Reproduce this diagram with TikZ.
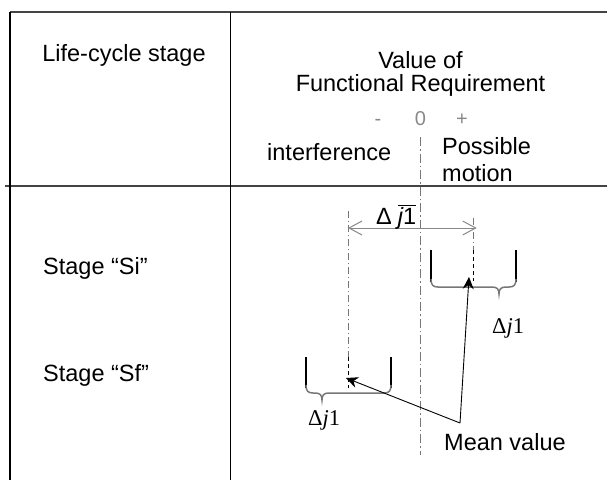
\documentclass[tikz,border=0pt]{standalone}
\usepackage{fontspec}
\setmainfont{Liberation Sans}
\newfontfamily\serifj{Liberation Serif}
\usetikzlibrary{arrows.meta}
\definecolor{axisgray}{HTML}{777777}
\definecolor{signgray}{HTML}{888888}
\definecolor{rulegray}{HTML}{444444}
\begin{document}
\begin{tikzpicture}[x=1pt,y=-1pt,
  txt/.style={font=\fontsize{23.5}{26}\selectfont, inner sep=0pt, anchor=base west},
  signtxt/.style={font=\fontsize{20}{22}\selectfont, text=signgray, inner sep=0pt, anchor=base},
  deltaj/.style={font=\serifj\fontsize{22.5}{24}\selectfont, inner sep=0pt, anchor=base west},
  hrule/.style={draw=rulegray, line width=1.3pt},
  vrule/.style={draw=black, line width=1.3pt},
  axisline/.style={draw=axisgray, line width=1.5pt, dash pattern=on 9pt off 3pt on 1.5pt off 3pt},
  projline/.style={draw=axisgray, line width=0.8pt, dash pattern=on 7pt off 3pt on 1pt off 3pt},
  meandash/.style={draw=black, line width=1pt, dash pattern=on 4pt off 3pt},
  dimline/.style={draw=signgray, line width=1pt, {Straight Barb[length=13pt,width=14pt]}-{Straight Barb[length=13pt,width=14pt]}},
  wall/.style={draw=black, line width=2pt},
  bracegray/.style={draw=axisgray, line width=1.5pt},
  pointer/.style={draw=black, line width=0.9pt, -{Stealth[length=12pt,width=11pt]}}
]
\useasboundingbox (0,0) rectangle (607,480);

% table frame
\coordinate (tl) at (10,12);
\coordinate (tr) at (607,12);
\coordinate (bl) at (10,480);
\coordinate (dt) at (230.5,12);
\coordinate (db) at (230.5,480);
\coordinate (hl) at (5,186);
\coordinate (hr) at (607,186);
\draw[hrule] (tl) -- (tr);
\draw[hrule] (hl) -- (hr);
\draw[vrule] (tl) -- (bl);
\draw[vrule] (dt) -- (db);

% header texts
\node[txt, anchor=base] (lcs) at (124,61) {Life-cycle stage};
\node[txt, anchor=base] (val) at (420.5,68.5) {Value of};
\node[txt, anchor=base] (fr) at (420.5,91) {Functional Requirement};
\node[signtxt] (minus) at (378,125) {-};
\node[signtxt] (zero) at (420.5,125) {0};
\node[signtxt] (plus) at (462,125) {+};
\node[txt] (intf) at (267,160) {interference};
\node[txt] (poss) at (442,154) {Possible};
\node[txt] (mot) at (442,181) {motion};

% row labels
\node[txt] (si) at (43,274) {Stage “Si”};
\node[txt] (sf) at (43,381) {Stage “Sf”};

% zero axis
\coordinate (z0) at (420.7,137);
\coordinate (z1) at (420.7,455);
\draw[axisline] (z0) -- (z1);

% mean projections
\coordinate (lm0) at (348,211);
\coordinate (lm1) at (348,357);
\coordinate (lm2) at (348,388);
\draw[projline] (lm0) -- (lm1);
\draw[meandash] (lm1) -- (lm2);
\coordinate (rm0) at (473.3,218);
\coordinate (rm1) at (473.3,250);
\coordinate (rm2) at (473.3,281);
\draw[projline] (rm0) -- (rm1);
\draw[meandash] (rm1) -- (rm2);

% shift dimension
\coordinate (dA) at (348,228);
\coordinate (dB) at (476.7,228);
\draw[dimline] (dA) -- (dB);
\node[txt] (dbar) at (376,224) {Δ\hspace{6pt}$\overline{\hbox{\itshape j\upshape 1}}$};

% bracket Si
\coordinate (ra0) at (431,250); \coordinate (ra1) at (431,282);
\coordinate (rb0) at (516,250); \coordinate (rb1) at (516,282);
\draw[wall] (ra0) -- (ra1);
\draw[wall] (rb0) -- (rb1);
\draw[bracegray] (431,279) .. controls (431,285) and (433,287) .. (438,287) -- (492,287)
  .. controls (497,287) and (499,289) .. (499,294)
  .. controls (499,289) and (501,287) .. (506,287) -- (509,287)
  .. controls (514,287) and (516,285) .. (516,279);
\node[deltaj] (dr) at (492,333) {Δ\textit{j}1};

% bracket Sf
\coordinate (la0) at (306,357); \coordinate (la1) at (306,388);
\coordinate (lb0) at (391,357); \coordinate (lb1) at (391,388);
\draw[wall] (la0) -- (la1);
\draw[wall] (lb0) -- (lb1);
\draw[bracegray] (306,385) .. controls (306,391) and (308,393) .. (313,393) -- (315,393)
  .. controls (320,393) and (322,395) .. (322,400)
  .. controls (322,395) and (324,393) .. (329,393) -- (384,393)
  .. controls (389,393) and (391,391) .. (391,385);
\node[deltaj] (dl) at (308,425) {Δ\textit{j}1};

% mean value pointers
\coordinate (mv) at (460,423);
\coordinate (mi) at (469,277);
\coordinate (mf) at (346,378);
\draw[pointer] (mv) -- (mi);
\draw[pointer] (mv) -- (mf);
\node[txt] (mean) at (444,450) {Mean value};
\end{tikzpicture}
\end{document}
